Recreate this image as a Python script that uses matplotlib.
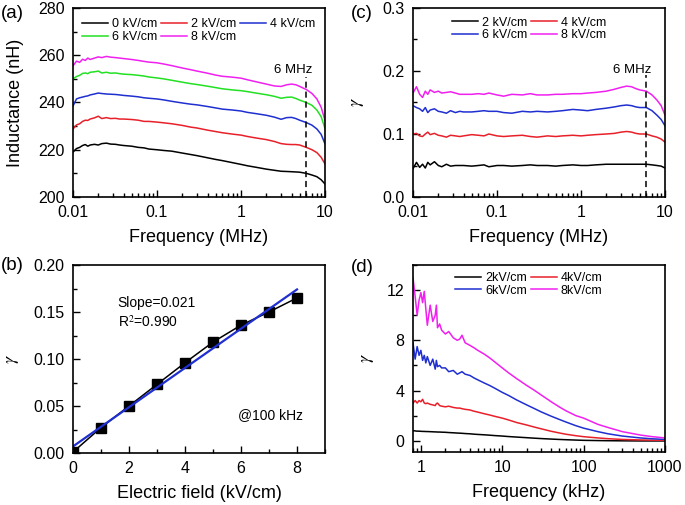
import matplotlib
matplotlib.use("Agg")
import matplotlib.pyplot as plt
from matplotlib.ticker import FixedLocator, LogLocator, NullFormatter, MultipleLocator

plt.rcParams['font.family'] = ['Liberation Sans', 'DejaVu Sans']
plt.rcParams['mathtext.fontset'] = 'stix'

# ---------------- Data ----------------
freq_a = [0.010, 0.011, 0.012, 0.013, 0.014, 0.015, 0.016, 0.018, 0.020, 0.022, 0.025,
          0.028, 0.032, 0.036, 0.04, 0.05, 0.06, 0.07, 0.08, 0.1, 0.12, 0.15, 0.2, 0.25,
          0.3, 0.4, 0.5, 0.6, 0.8, 1.0, 1.2, 1.5, 2.0, 2.5, 3.0, 3.5, 4.0, 4.5, 5.0, 6.0,
          7.0, 8.0, 9.0, 10.0]
L_0 = [219.0, 220.5, 221.0, 221.8, 222.2, 221.5, 222.0, 222.3, 222.0, 222.6, 222.8, 222.4,
       222.3, 222.0, 221.8, 221.5, 221.0, 220.8, 220.3, 220.0, 219.7, 219.4, 218.6, 218.0,
       217.5, 216.6, 215.9, 215.4, 214.5, 213.8, 213.2, 212.6, 211.8, 211.3, 210.9, 210.8,
       210.7, 210.6, 210.5, 210.0, 209.3, 208.6, 207.3, 205.5]
L_2 = [228.8, 230.5, 231.0, 232.0, 232.5, 232.4, 233.0, 233.5, 234.2, 233.2, 233.6, 233.2,
       233.3, 233.0, 233.0, 232.8, 232.5, 232.0, 232.0, 231.7, 231.4, 231.0, 230.3, 229.6,
       229.2, 228.3, 227.7, 227.2, 226.6, 226.2, 225.6, 225.0, 224.3, 223.5, 222.6, 222.3,
       222.2, 222.2, 222.0, 221.0, 220.0, 218.8, 216.8, 214.0]
L_4 = [238.5, 241.5, 242.0, 242.3, 242.6, 242.8, 243.2, 243.6, 244.0, 243.8, 243.6, 243.5,
       243.4, 243.2, 243.0, 242.7, 242.4, 242.0, 241.8, 241.5, 241.1, 240.5, 239.8, 239.3,
       239.0, 238.3, 237.7, 237.2, 236.8, 236.4, 235.8, 235.3, 234.6, 233.8, 232.9, 233.6,
       233.7, 233.2, 232.5, 231.5, 230.4, 228.8, 226.5, 222.5]
L_6 = [250.0, 251.0, 251.5, 252.3, 252.5, 252.2, 252.8, 253.0, 253.3, 252.5, 252.8, 252.4,
       252.5, 252.2, 252.0, 251.8, 251.5, 251.2, 250.8, 250.4, 250.0, 249.4, 248.6, 248.0,
       247.6, 246.9, 246.3, 245.8, 245.3, 245.0, 244.6, 244.0, 243.3, 242.6, 241.8, 242.2,
       242.3, 241.7, 241.0, 240.0, 238.8, 236.8, 234.0, 229.0]
L_8 = [255.5, 257.5, 257.0, 258.3, 257.8, 258.8, 258.2, 258.8, 259.3, 259.0, 259.5, 259.2,
       259.0, 258.8, 258.6, 258.2, 257.8, 257.4, 257.1, 256.8, 256.3, 255.6, 254.6, 253.9,
       253.3, 252.4, 251.6, 251.1, 250.7, 250.3, 249.6, 248.8, 247.8, 247.0, 246.8, 247.5,
       247.8, 247.5, 246.8, 245.5, 243.8, 241.5, 238.0, 232.5]
labels_a = ['0 kV/cm', '2 kV/cm', '4 kV/cm', '6 kV/cm', '8 kV/cm']

freq_c = freq_a
G_2 = [0.045, 0.055, 0.047, 0.052, 0.046, 0.055, 0.051, 0.056, 0.050, 0.048, 0.052, 0.049,
       0.050, 0.050, 0.050, 0.049, 0.050, 0.051, 0.048, 0.050, 0.050, 0.049, 0.050, 0.051,
       0.050, 0.050, 0.049, 0.050, 0.051, 0.050, 0.050, 0.051, 0.052, 0.052, 0.052, 0.052,
       0.052, 0.052, 0.052, 0.052, 0.051, 0.050, 0.049, 0.046]
G_4 = [0.100, 0.101, 0.097, 0.096, 0.100, 0.103, 0.099, 0.101, 0.098, 0.097, 0.095, 0.098,
       0.097, 0.096, 0.097, 0.099, 0.098, 0.097, 0.100, 0.097, 0.096, 0.097, 0.098, 0.096,
       0.095, 0.097, 0.096, 0.097, 0.098, 0.097, 0.098, 0.099, 0.100, 0.101, 0.103, 0.104,
       0.103, 0.101, 0.100, 0.100, 0.097, 0.095, 0.092, 0.087]
G_6 = [0.145, 0.142, 0.140, 0.136, 0.142, 0.134, 0.138, 0.140, 0.136, 0.135, 0.133, 0.137,
       0.134, 0.136, 0.135, 0.135, 0.136, 0.137, 0.136, 0.136, 0.134, 0.133, 0.136, 0.135,
       0.136, 0.135, 0.136, 0.137, 0.139, 0.138, 0.137, 0.139, 0.141, 0.143, 0.145, 0.146,
       0.145, 0.143, 0.142, 0.142, 0.137, 0.130, 0.123, 0.113]
G_8 = [0.165, 0.175, 0.163, 0.158, 0.168, 0.163, 0.170, 0.166, 0.168, 0.165, 0.166, 0.167,
       0.165, 0.163, 0.163, 0.163, 0.164, 0.163, 0.165, 0.162, 0.160, 0.163, 0.162, 0.164,
       0.162, 0.162, 0.163, 0.163, 0.164, 0.164, 0.165, 0.166, 0.168, 0.171, 0.174, 0.176,
       0.175, 0.172, 0.170, 0.168, 0.162, 0.154, 0.145, 0.130]
labels_c = ['2 kV/cm', '4 kV/cm', '6 kV/cm', '8 kV/cm']

field_b = [0, 1, 2, 3, 4, 5, 6, 7, 8]
gamma_b = [0.001, 0.027, 0.050, 0.073, 0.096, 0.118, 0.136, 0.150, 0.165]
fit_x = [0, 8]
fit_y = [0.007, 0.174]

freq_d = [0.80, 0.85, 0.90, 0.95, 1.0, 1.05, 1.1, 1.15, 1.2, 1.3, 1.4, 1.5, 1.55, 1.6, 1.7,
          1.8, 2.0, 2.2, 2.5, 2.8, 3.0, 3.2, 3.5, 4.0, 4.5, 5, 6, 7, 8, 10, 12, 15, 20, 25,
          30, 40, 50, 60, 80, 100, 150, 200, 300, 500, 700, 1000]
D_2 = [0.80, 0.78, 0.76, 0.76, 0.75, 0.74, 0.74, 0.73, 0.73, 0.72, 0.71, 0.70, 0.70, 0.69,
       0.69, 0.68, 0.67, 0.65, 0.63, 0.61, 0.60, 0.59, 0.57, 0.55, 0.52, 0.50, 0.47, 0.44,
       0.41, 0.37, 0.33, 0.29, 0.24, 0.20, 0.17, 0.13, 0.10, 0.08, 0.05, 0.03, 0.01, 0.0,
       -0.01, -0.02, -0.02, -0.02]
D_4 = [3.0, 3.2, 3.0, 3.2, 3.1, 3.3, 3.0, 2.95, 3.0, 2.9, 2.85, 2.8, 2.95, 3.0, 2.8, 2.75,
       2.7, 2.75, 2.65, 2.6, 2.6, 2.55, 2.5, 2.45, 2.35, 2.28, 2.15, 2.05, 1.95, 1.8, 1.65,
       1.45, 1.25, 1.08, 0.95, 0.75, 0.62, 0.52, 0.40, 0.32, 0.22, 0.16, 0.10, 0.06, 0.04,
       0.03]
D_6 = [7.8, 6.5, 7.5, 6.8, 7.2, 6.4, 6.8, 6.2, 6.7, 6.0, 6.5, 5.7, 6.4, 5.9, 6.0, 5.8, 5.8,
       5.5, 5.6, 5.3, 5.4, 5.5, 5.3, 5.2, 5.0, 4.85, 4.6, 4.4, 4.2, 3.85, 3.6, 3.25, 2.85,
       2.55, 2.3, 1.95, 1.7, 1.5, 1.2, 1.0, 0.72, 0.55, 0.37, 0.22, 0.15, 0.10]
D_8 = [13.0, 11.5, 10.0, 11.2, 11.8, 11.0, 11.9, 10.5, 9.2, 10.8, 9.5, 10.0, 10.8, 9.0, 9.3,
       8.8, 8.5, 8.7, 8.2, 8.0, 8.1, 8.4, 7.8, 7.6, 7.4, 7.2, 6.9, 6.6, 6.3, 5.8, 5.4, 4.95,
       4.4, 4.0, 3.65, 3.1, 2.7, 2.4, 2.0, 1.8, 1.3, 1.05, 0.72, 0.45, 0.32, 0.22]
labels_d = ['2kV/cm', '4kV/cm', '6kV/cm', '8kV/cm']

colors5 = ['black', '#e8202a', '#1f2fd0', '#22e022', '#f020f0']
colors4 = ['black', '#e8202a', '#1f2fd0', '#f020f0']

# ---------------- Figure ----------------
W, H = 685, 505
fig = plt.figure(figsize=(W / 100, H / 100), dpi=100)

def ax_at(l, t, r, b):
    return fig.add_axes([l / W, 1 - b / H, (r - l) / W, (b - t) / H])

ax_a = ax_at(73, 8, 325, 197)
ax_c = ax_at(413, 8, 665, 197)
ax_b = ax_at(73, 265, 325, 453)
ax_d = ax_at(413, 265, 665, 452)

TICK_FS = 11.5
LAB_FS = 13

def style(ax):
    ax.tick_params(which='both', direction='in', top=False, right=False,
                   labelsize=TICK_FS, width=1.0)
    ax.tick_params(axis='y', which='major', length=5, pad=6)
    ax.tick_params(axis='x', which='major', length=5, pad=6)
    ax.tick_params(which='minor', length=3)
    for s in ax.spines.values():
        s.set_linewidth(1.2)

def legend_rowmajor(ax, ncol, anchor):
    h, l = ax.get_legend_handles_labels()
    n = len(h)
    nrow = -(-n // ncol)
    order = []
    for c in range(ncol):
        for r in range(nrow):
            i = r * ncol + c
            if i < n:
                order.append(i)
    ax.legend([h[i] for i in order], [l[i] for i in order], ncol=ncol,
              loc='upper left', bbox_to_anchor=anchor, frameon=False,
              fontsize=9, handlelength=2.1, columnspacing=0.3, handletextpad=0.3,
              labelspacing=0.05, borderaxespad=0, borderpad=0)

# (a)
for y, c, lab in zip([L_0, L_2, L_4, L_6, L_8], colors5, labels_a):
    ax_a.plot(freq_a, y, color=c, lw=1.1, label=lab)
ax_a.set_xscale('log')
ax_a.set_xlim(0.01, 10)
ax_a.set_ylim(200, 280)
ax_a.yaxis.set_major_locator(MultipleLocator(20))
ax_a.yaxis.set_minor_locator(MultipleLocator(10))
ax_a.xaxis.set_major_locator(FixedLocator([0.01, 0.1, 1, 10]))
ax_a.set_xticklabels(['0.01', '0.1', '1', '10'])
ax_a.xaxis.set_minor_locator(LogLocator(base=10, subs=range(2, 10)))
ax_a.xaxis.set_minor_formatter(NullFormatter())
ax_a.plot([6, 6], [200, 251], color='black', lw=1.1, ls=(0, (4, 2.5)))
ax_a.text(4.2, 253.8, '6 MHz', ha='center', va='center', fontsize=9.5)
ax_a.set_xlabel('Frequency (MHz)', fontsize=LAB_FS, labelpad=6)
ax_a.set_ylabel('Inductance (nH)', fontsize=LAB_FS, labelpad=10)
legend_rowmajor(ax_a, 3, (0.036, 0.945))
style(ax_a)

# (c)
for y, c, lab in zip([G_2, G_4, G_6, G_8], colors4, labels_c):
    ax_c.plot(freq_c, y, color=c, lw=1.1, label=lab)
ax_c.set_xscale('log')
ax_c.set_xlim(0.01, 10)
ax_c.set_ylim(0, 0.3)
ax_c.set_yticks([0, 0.1, 0.2, 0.3])
ax_c.set_yticklabels(['0.0', '0.1', '0.2', '0.3'])
ax_c.yaxis.set_minor_locator(MultipleLocator(0.05))
ax_c.xaxis.set_major_locator(FixedLocator([0.01, 0.1, 1, 10]))
ax_c.set_xticklabels(['0.01', '0.1', '1', '10'])
ax_c.xaxis.set_minor_locator(LogLocator(base=10, subs=range(2, 10)))
ax_c.xaxis.set_minor_formatter(NullFormatter())
ax_c.plot([6, 6], [0, 0.194], color='black', lw=1.1, ls=(0, (4, 2.5)))
ax_c.text(4.05, 0.2016, '6 MHz', ha='center', va='center', fontsize=9.5)
ax_c.set_xlabel('Frequency (MHz)', fontsize=LAB_FS, labelpad=6)
ax_c.set_ylabel(r'$\gamma$', fontsize=LAB_FS, labelpad=12)
legend_rowmajor(ax_c, 2, (0.155, 0.955))
style(ax_c)

# (b)
ax_b.plot(field_b, gamma_b, color='black', lw=1.1, marker='s', ms=7)
ax_b.plot(fit_x, fit_y, color='#1f2fd0', lw=1.6)
ax_b.set_xlim(0, 9)
ax_b.set_ylim(0, 0.2)
ax_b.xaxis.set_major_locator(MultipleLocator(2))
ax_b.xaxis.set_minor_locator(MultipleLocator(1))
ax_b.set_yticks([0, 0.05, 0.10, 0.15, 0.20])
ax_b.set_yticklabels(['0.00', '0.05', '0.10', '0.15', '0.20'])
ax_b.yaxis.set_minor_locator(MultipleLocator(0.025))
ax_b.text(1.6, 0.160, 'Slope=0.021', ha='left', va='center', fontsize=10)
ax_b.text(1.6, 0.139, r'R$^2$=0.990', ha='left', va='center', fontsize=10)
ax_b.text(5.9, 0.040, '@100 kHz', ha='left', va='center', fontsize=10)
ax_b.set_xlabel('Electric field (kV/cm)', fontsize=LAB_FS, labelpad=6)
ax_b.set_ylabel(r'$\gamma$', fontsize=LAB_FS, labelpad=9)
style(ax_b)

# (d)
for y, c, lab in zip([D_2, D_4, D_6, D_8], colors4, labels_d):
    ax_d.plot(freq_d, y, color=c, lw=1.1, label=lab)
ax_d.set_xscale('log')
ax_d.set_xlim(0.8, 1000)
ax_d.set_ylim(-0.9, 14)
ax_d.yaxis.set_major_locator(FixedLocator([0, 4, 8, 12]))
ax_d.yaxis.set_minor_locator(FixedLocator([2, 6, 10, 14]))
ax_d.xaxis.set_major_locator(FixedLocator([1, 10, 100, 1000]))
ax_d.set_xticklabels(['1', '10', '100', '1000'])
ax_d.xaxis.set_minor_locator(LogLocator(base=10, subs=range(2, 10)))
ax_d.xaxis.set_minor_formatter(NullFormatter())
ax_d.set_xlabel('Frequency (kHz)', fontsize=LAB_FS, labelpad=6)
ax_d.set_ylabel(r'$\gamma$', fontsize=LAB_FS, labelpad=8)
legend_rowmajor(ax_d, 2, (0.167, 0.963))
style(ax_d)

# panel labels
fig.text(1 / W, 1 - 13 / H, '(a)', fontsize=13.5, ha='left', va='center')
fig.text(1 / W, 1 - 265 / H, '(b)', fontsize=13.5, ha='left', va='center')
fig.text(351 / W, 1 - 13 / H, '(c)', fontsize=13.5, ha='left', va='center')
fig.text(351 / W, 1 - 267 / H, '(d)', fontsize=13.5, ha='left', va='center')

fig.savefig('out.png', dpi=100)
